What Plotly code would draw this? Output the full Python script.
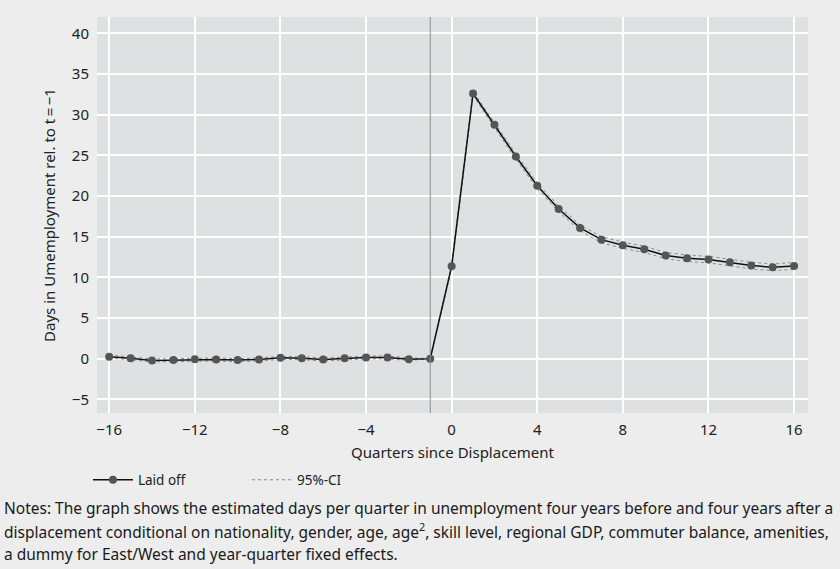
import plotly.graph_objects as go

quarters = list(range(-16, 17))
laid_off = [0.23, 0.06, -0.22, -0.18, -0.06, -0.10, -0.18, -0.10, 0.10, 0.06, -0.10, 0.06, 0.15, 0.15, -0.06, 0.0,
            11.35, 32.6, 28.75, 24.85, 21.26, 18.4, 16.07, 14.63, 13.93, 13.44, 12.67, 12.34, 12.18, 11.85, 11.44, 11.23, 11.4]
ci_lower = [0.05, -0.12, -0.40, -0.36, -0.24, -0.28, -0.36, -0.28, -0.08, -0.12, -0.28, -0.12, -0.03, -0.03, -0.22, 0.0,
            11.1, 32.35, 28.45, 24.5, 20.9, 18.05, 15.7, 14.25, 13.55, 13.05, 12.28, 11.95, 11.78, 11.45, 11.03, 10.82, 10.98]
ci_upper = [0.41, 0.24, -0.04, 0.00, 0.12, 0.08, 0.00, 0.08, 0.28, 0.24, 0.08, 0.24, 0.33, 0.33, 0.10, 0.0,
            11.6, 32.85, 29.05, 25.2, 21.62, 18.75, 16.44, 15.01, 14.31, 13.83, 13.06, 12.73, 12.58, 12.25, 11.85, 11.64, 11.82]

x_ticks = [-16, -12, -8, -4, 0, 4, 8, 12, 16]
x_tick_labels = ["\u221216", "\u221212", "\u22128", "\u22124", "0", "4", "8", "12", "16"]
y_ticks = [-5, 0, 5, 10, 15, 20, 25, 30, 35, 40]
y_tick_labels = ["\u22125", "0", "5", "10", "15", "20", "25", "30", "35", "40"]

notes = [
    "Notes: The graph shows the estimated days per quarter in unemployment four years before and four years after a",
    "displacement conditional on nationality, gender, age, age<sup>2</sup>, skill level, regional GDP, commuter balance, amenities,",
    "a dummy for East/West and year-quarter fixed effects.",
]

fig = go.Figure()
fig.add_trace(go.Scatter(x=quarters, y=ci_lower, mode="lines", name="95%-CI",
                         line=dict(color="#8a8a8a", width=1, dash="dot"), showlegend=True, legendrank=2))
fig.add_trace(go.Scatter(x=quarters, y=ci_upper, mode="lines", name="95%-CI upper",
                         line=dict(color="#8a8a8a", width=1, dash="dot"), showlegend=False))
fig.add_trace(go.Scatter(x=quarters, y=laid_off, mode="lines+markers", name="Laid off",
                         line=dict(color="#111111", width=1.5),
                         marker=dict(color="#555555", size=8), legendrank=1))

fig.add_vline(x=-1, line=dict(color="#8c8c8c", width=1))

font_main = "'Noto Sans', sans-serif"
fig.update_layout(
    width=840, height=569,
    margin=dict(l=97, r=32, t=17, b=156),
    paper_bgcolor="#ecedec",
    plot_bgcolor="#dfe0e1",
    font=dict(family=font_main, size=15, color="#222222"),
    showlegend=True,
    legend=dict(orientation="h", x=-0.0127, y=-0.13, xanchor="left", yanchor="top",
                bgcolor="rgba(0,0,0,0)", font=dict(size=13.5, family=font_main),
                itemwidth=40, traceorder="normal", entrywidth=104),
    xaxis=dict(range=[-16.57, 16.65], tickmode="array", tickvals=x_ticks, ticktext=x_tick_labels,
               showgrid=True, gridcolor="#ffffff", gridwidth=1.5, zeroline=False, showline=False,
               ticks="", ticklabelstandoff=6,
               title=dict(text="Quarters since Displacement", standoff=9, font=dict(size=15, family=font_main))),
    yaxis=dict(range=[-6.68, 42.0], tickmode="array", tickvals=y_ticks, ticktext=y_tick_labels,
               showgrid=True, gridcolor="#ffffff", gridwidth=1.5, zeroline=False, showline=False,
               ticks="", ticklabelstandoff=7,
               title=dict(text="Days in Umemployment rel. to t\u2009=\u2009\u22121", standoff=12,
                          font=dict(size=15, family=font_main))),
)

for i, line in enumerate(notes):
    fig.add_annotation(xref="paper", yref="paper", x=-95 / 711, y=(413 - (508 + 23 * i)) / 396,
                       xanchor="left", yanchor="middle", showarrow=False, text=line,
                       font=dict(size=15.5, color="#1a1a1a", family=font_main))

fig.write_html("out.html", config={"displayModeBar": False},
               post_script="document.body.style.margin='0';document.body.style.padding='0';")
